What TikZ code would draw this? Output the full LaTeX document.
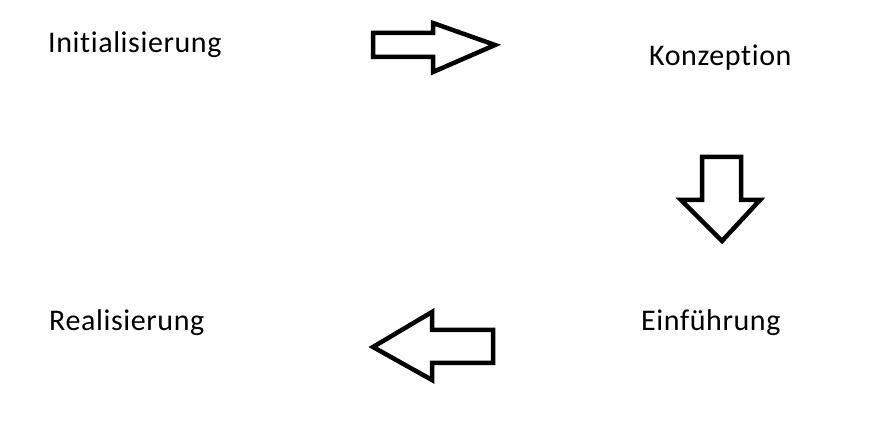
\documentclass[tikz,border=0pt]{standalone}
\usepackage{fontspec}
\setmainfont{Carlito}[Ligatures=NoCommon,LetterSpace=2]
\begin{document}
\begin{tikzpicture}[x=1bp,y=-1bp,
  phase/.style={anchor=base west,inner sep=0pt,font=\fontsize{30bp}{36bp}\selectfont},
  blockarrow/.style={draw=black,line width=4.5bp,line join=miter,fill=white}]
\useasboundingbox (0,0) rectangle (873,441);

% phase labels
\node[phase] (init) at (48,53) {Initialisierung};
\node[phase] (konz) at (649,66) {Konzeption};
\node[phase] (einf) at (641,331) {Einführung};
\node[phase] (real) at (49,331) {Realisierung};

% block arrow: right
\draw[blockarrow] (373,33) -- (433,33) -- (433,23) -- (495,45)
  -- (433,72) -- (433,57) -- (373,57) -- cycle;

% block arrow: down
\draw[blockarrow] (702,157) -- (741,157) -- (741,200) -- (760,200)
  -- (722,241) -- (681,200) -- (702,200) -- cycle;

% block arrow: left
\draw[blockarrow] (493,330) -- (432,330) -- (432,312) -- (373,347)
  -- (432,380) -- (432,363) -- (493,363) -- cycle;
\end{tikzpicture}
\end{document}
